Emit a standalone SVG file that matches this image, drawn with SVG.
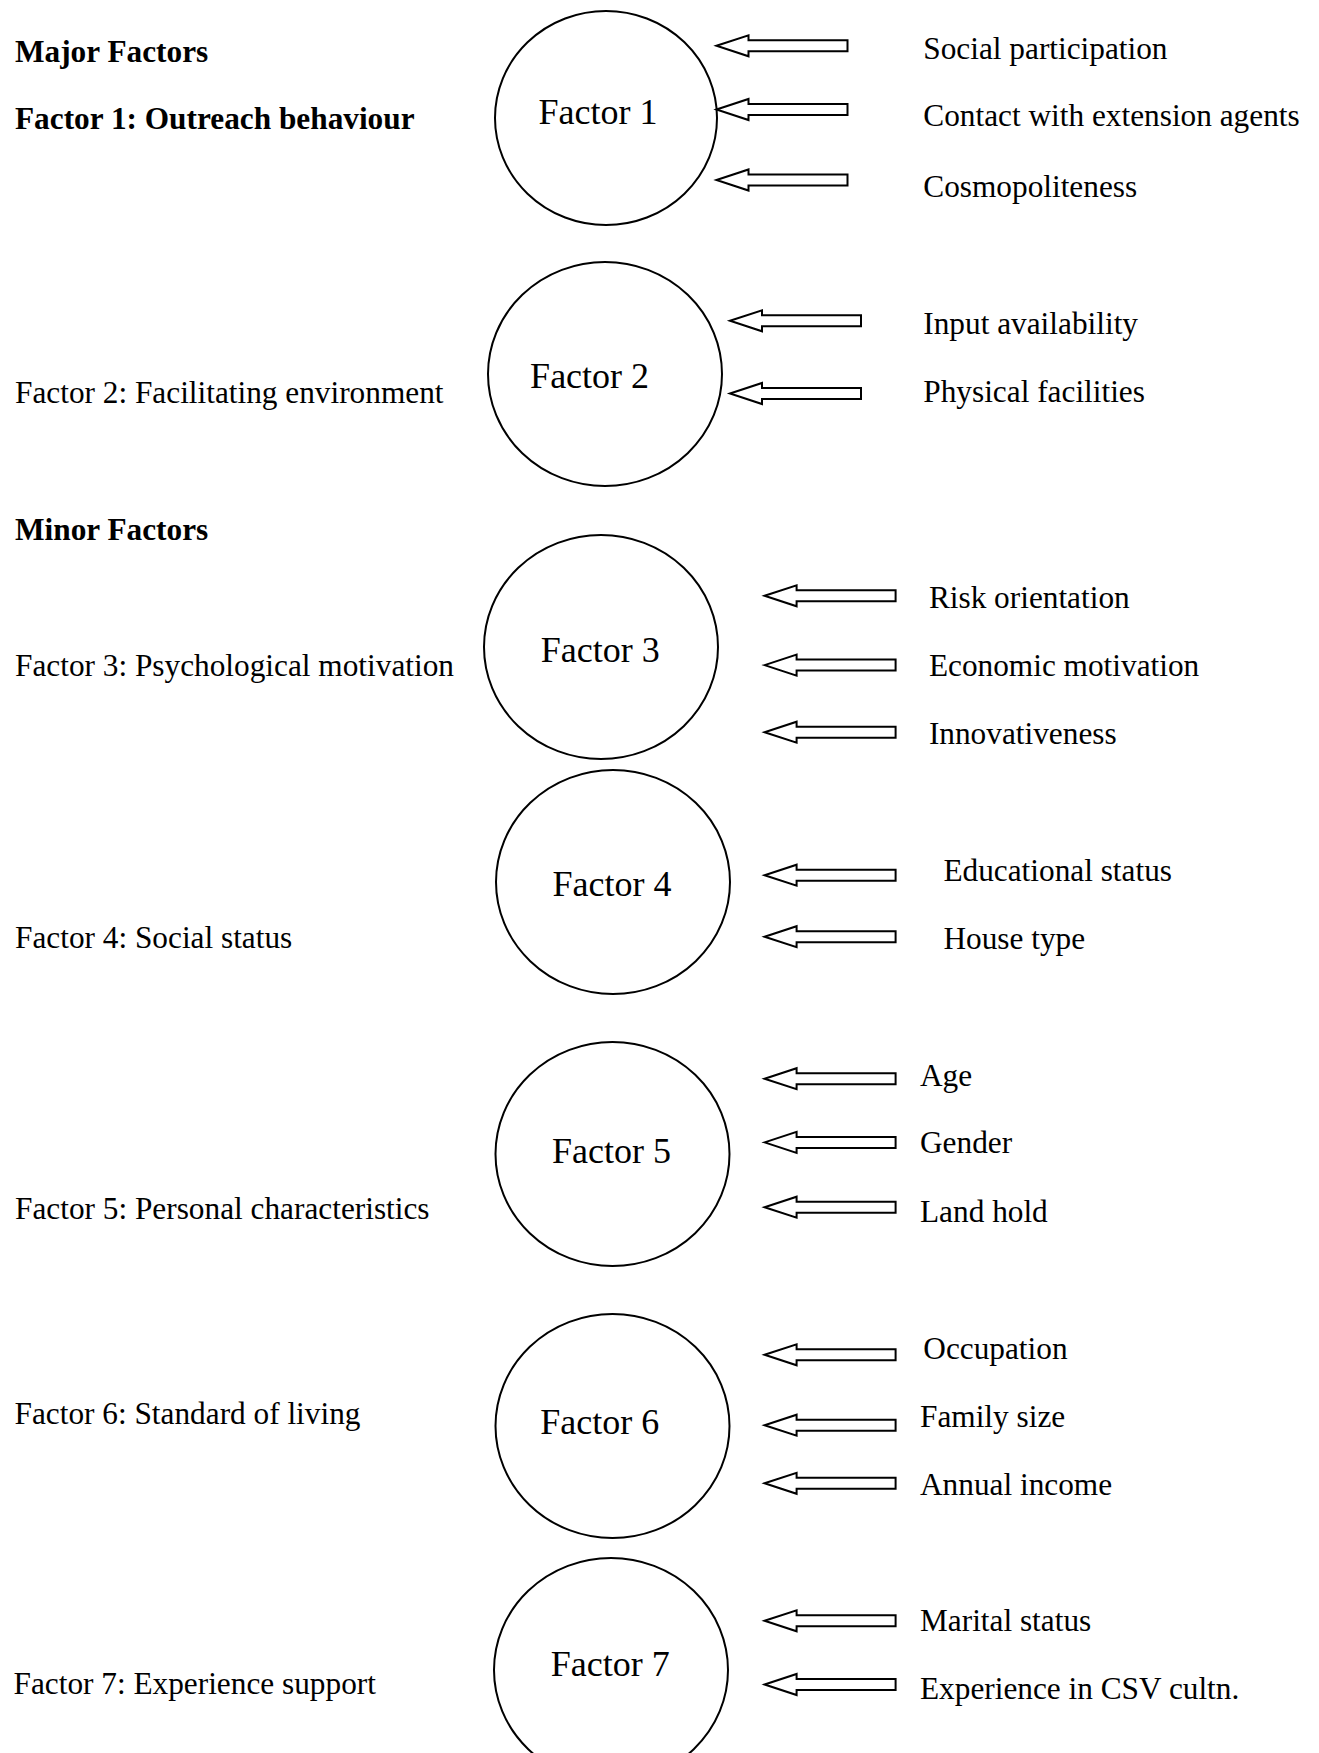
<svg xmlns="http://www.w3.org/2000/svg" xmlns:xlink="http://www.w3.org/1999/xlink" width="1319" height="1753" viewBox="0 0 1319 1753">
<style>
text{font-family:"Liberation Serif","Times New Roman",serif;fill:#000}
.lbl{font-size:31.3px}
.b{font-weight:bold}
.ftr{font-size:36px;text-anchor:middle}
.c{fill:#fff;stroke:#000;stroke-width:2}
.a{fill:#fff;stroke:#000;stroke-width:2;stroke-linejoin:miter}
</style>
<defs>
<path id="arr" class="a" d="M0,0 L32,-10.5 L32,-5.5 L131,-5.5 L131,5.5 L32,5.5 L32,10.5 Z"/>
</defs>
<rect width="1319" height="1753" fill="#fff"/>
<g id="headings">
<text class="lbl b" x="15" y="62">Major Factors</text>
<text class="lbl b" x="15" y="539.7">Minor Factors</text>
</g>
<g id="left-labels">
<text class="lbl b" x="15" y="129.4">Factor 1: Outreach behaviour</text>
<text class="lbl" x="15" y="403.3">Factor 2: Facilitating environment</text>
<text class="lbl" x="15" y="676">Factor 3: Psychological motivation</text>
<text class="lbl" x="15" y="947.7">Factor 4: Social status</text>
<text class="lbl" x="15" y="1219.3">Factor 5: Personal characteristics</text>
<text class="lbl" x="14.5" y="1423.8">Factor 6: Standard of living</text>
<text class="lbl" x="13.5" y="1694.4">Factor 7: Experience support</text>
</g>
<g id="factor1">
<ellipse class="c" cx="606" cy="118" rx="111" ry="107"/>
<text class="ftr" x="598" y="123.5">Factor 1</text>
<text class="lbl" x="923.3" y="59.1">Social participation</text>
<text class="lbl" x="923.3" y="126.3">Contact with extension agents</text>
<text class="lbl" x="923.3" y="196.5">Cosmopoliteness</text>
</g>
<g id="factor2">
<ellipse class="c" cx="605" cy="374" rx="117" ry="112"/>
<text class="ftr" x="589.6" y="388.4">Factor 2</text>
<text class="lbl" x="923.3" y="334">Input availability</text>
<text class="lbl" x="923.3" y="402.2">Physical facilities</text>
</g>
<g id="factor3">
<ellipse class="c" cx="601" cy="647" rx="117" ry="112"/>
<text class="ftr" x="600.3" y="662.3">Factor 3</text>
<text class="lbl" x="928.9" y="607.8">Risk orientation</text>
<text class="lbl" x="928.9" y="676">Economic motivation</text>
<text class="lbl" x="928.9" y="744.2">Innovativeness</text>
</g>
<g id="factor4">
<ellipse class="c" cx="613" cy="882" rx="117" ry="112"/>
<text class="ftr" x="612" y="895.9">Factor 4</text>
<text class="lbl" x="943.4" y="880.6">Educational status</text>
<text class="lbl" x="943.4" y="948.8">House type</text>
</g>
<g id="factor5">
<ellipse class="c" cx="612.5" cy="1154" rx="117" ry="112"/>
<text class="ftr" x="611.4" y="1163">Factor 5</text>
<text class="lbl" x="920" y="1086.3">Age</text>
<text class="lbl" x="920" y="1153.3">Gender</text>
<text class="lbl" x="920" y="1221.5">Land hold</text>
</g>
<g id="factor6">
<ellipse class="c" cx="612.5" cy="1426" rx="117" ry="112"/>
<text class="ftr" x="599.7" y="1433.6">Factor 6</text>
<text class="lbl" x="923.3" y="1359">Occupation</text>
<text class="lbl" x="920" y="1427.2">Family size</text>
<text class="lbl" x="920" y="1495.3">Annual income</text>
</g>
<g id="factor7">
<ellipse class="c" cx="611" cy="1670" rx="117" ry="112"/>
<text class="ftr" x="610.3" y="1676.1">Factor 7</text>
<text class="lbl" x="920" y="1630.6">Marital status</text>
<text class="lbl" x="920" y="1698.8">Experience in CSV cultn.</text>
</g>
<g id="connectors">
<use xlink:href="#arr" x="716.5" y="45.8"/>
<use xlink:href="#arr" x="716.5" y="109.5"/>
<use xlink:href="#arr" x="716.5" y="180"/>
<use xlink:href="#arr" x="730" y="320.8"/>
<use xlink:href="#arr" x="730" y="393.5"/>
<use xlink:href="#arr" x="764.6" y="595.8"/>
<use xlink:href="#arr" x="764.6" y="665.1"/>
<use xlink:href="#arr" x="764.6" y="732.2"/>
<use xlink:href="#arr" x="764.6" y="875.2"/>
<use xlink:href="#arr" x="764.6" y="936.7"/>
<use xlink:href="#arr" x="764.6" y="1078.7"/>
<use xlink:href="#arr" x="764.6" y="1142.4"/>
<use xlink:href="#arr" x="764.6" y="1207.2"/>
<use xlink:href="#arr" x="764.6" y="1354.8"/>
<use xlink:href="#arr" x="764.6" y="1425.2"/>
<use xlink:href="#arr" x="764.6" y="1483.3"/>
<use xlink:href="#arr" x="764.6" y="1620.8"/>
<use xlink:href="#arr" x="764.6" y="1684.5"/>
</g>
</svg>
